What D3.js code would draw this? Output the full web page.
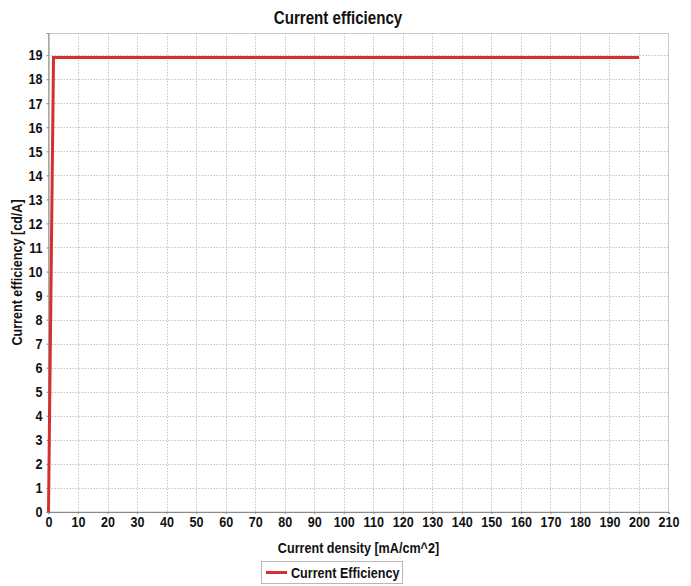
<!DOCTYPE html>
<html>
<head>
<meta charset="utf-8">
<script src="https://cdn.jsdelivr.net/npm/d3@7"></script>
<style>
  html, body { margin: 0; padding: 0; background: #fff; }
  svg { display: block; font-family: "Liberation Sans", Arial, sans-serif; }
</style>
</head>
<body>
<svg id="chart" width="691" height="586"></svg>
<script>
// Measured series: current density (mA/cm^2) vs current efficiency (cd/A)
const densityValues = [0, 1.7, 200];
const efficiencyValues = [0, 18.9, 18.9];
const xTickValues = d3.range(0, 211, 10);
const yTickValues = d3.range(0, 20, 1);
const chartTitle = "Current efficiency";
const xAxisTitle = "Current density [mA/cm^2]";
const yAxisTitle = "Current efficiency [cd/A]";
const seriesName = "Current Efficiency";

// condensed bold lettering: regular sans squeezed horizontally
const FONT = "'Liberation Sans', Arial, sans-serif";
const SQUEEZE = 0.84;
const svg = d3.select("#chart");
const plot = { left: 48.5, right: 668.5, top: 33, bottom: 512 };

const x = d3.scaleLinear().domain([0, 210]).range([plot.left, plot.right]);
const y = d3.scaleLinear().domain([0, 19.92]).range([plot.bottom, plot.top]);

// plot background
svg.append("rect")
  .attr("x", plot.left).attr("y", plot.top)
  .attr("width", plot.right - plot.left).attr("height", plot.bottom - plot.top)
  .attr("fill", "#ffffff");

// dotted grid
const grid = svg.append("g").attr("stroke", "#c4c4c4").attr("stroke-width", 1)
  .attr("stroke-dasharray", "1.5,1.5");
grid.selectAll(".gx").data(xTickValues.filter(v => v > 0 && v < 210)).join("line")
  .attr("x1", d => Math.round(x(d)) + 0.5).attr("x2", d => Math.round(x(d)) + 0.5)
  .attr("y1", plot.top).attr("y2", plot.bottom);
grid.selectAll(".gy").data(yTickValues.filter(v => v > 0)).join("line")
  .attr("y1", d => Math.round(y(d)) + 0.5).attr("y2", d => Math.round(y(d)) + 0.5)
  .attr("x1", plot.left).attr("x2", plot.right);

// plot outline
svg.append("rect")
  .attr("x", plot.left).attr("y", plot.top + 0.5)
  .attr("width", plot.right - plot.left).attr("height", plot.bottom - plot.top - 0.5)
  .attr("fill", "none").attr("stroke", "#c8c8c8");

// axes
const xAxis = d3.axisBottom(x).tickValues(xTickValues).tickSize(2).tickPadding(2);
const yAxis = d3.axisLeft(y).tickValues(yTickValues).tickSize(2).tickPadding(4);

const gx = svg.append("g").attr("transform", `translate(0,${plot.bottom})`).call(xAxis);
const gy = svg.append("g").attr("transform", `translate(${plot.left},0)`).call(yAxis);
[gx, gy].forEach(g => {
  g.select(".domain").attr("stroke", "#8a8a8a");
  g.selectAll(".tick line").attr("stroke", "#8a8a8a");
  g.selectAll(".tick text")
    .attr("fill", "#111")
    .attr("font-size", 15)
    .attr("font-weight", "bold")
    .attr("font-family", FONT)
    .attr("transform", `scale(${SQUEEZE},1)`);
});
gy.selectAll(".tick text").attr("x", -6 / SQUEEZE);

// series line
const line = d3.line().x(d => x(d[0])).y(d => y(d[1]));
svg.append("path")
  .datum(d3.zip(densityValues, efficiencyValues))
  .attr("d", line)
  .attr("fill", "none")
  .attr("stroke", "#d42f31")
  .attr("stroke-width", 3)
  .attr("stroke-linejoin", "miter");

function label(transform, size, text, anchor) {
  return svg.append("text")
    .attr("transform", `${transform} scale(${SQUEEZE},1)`)
    .attr("text-anchor", anchor || "middle")
    .attr("font-size", size).attr("font-weight", "bold").attr("fill", "#111")
    .attr("font-family", FONT)
    .text(text);
}

// titles
label("translate(338,24)", 18, chartTitle);
label(`translate(${(plot.left + plot.right) / 2},553)`, 15, xAxisTitle);
label(`translate(22,${(plot.top + plot.bottom) / 2}) rotate(-90)`, 15, yAxisTitle);

// legend
const legend = svg.append("g").attr("transform", "translate(261,561)");
legend.append("rect")
  .attr("x", 0.5).attr("y", 0.5).attr("width", 141).attr("height", 22)
  .attr("fill", "#fff").attr("stroke", "#b8b8b8");
legend.append("line")
  .attr("x1", 5).attr("x2", 26).attr("y1", 11.5).attr("y2", 11.5)
  .attr("stroke", "#d42f31").attr("stroke-width", 3);
label("translate(291,578)", 15, seriesName, "start");
</script>
</body>
</html>
